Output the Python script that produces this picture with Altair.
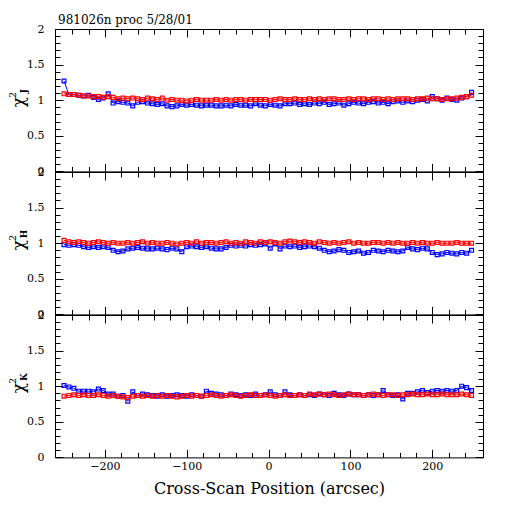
import altair as alt
import pandas as pd

# cross-scan positions (arcsec)
x_pos = list(range(-250, 249, 6))  # 84 bins

j_blue = [1.27, 1.08, 1.08, 1.07, 1.06, 1.07, 1.04, 1.01, 1.03, 1.09,
          0.96, 0.98, 0.97, 0.96, 0.92, 0.97, 0.98, 0.96, 0.95, 0.94,
          0.95, 0.92, 0.91, 0.92, 0.94, 0.93, 0.94, 0.93, 0.92, 0.93,
          0.93, 0.92, 0.92, 0.93, 0.92, 0.94, 0.93, 0.93, 0.92, 0.95,
          0.93, 0.92, 0.94, 0.93, 0.92, 0.95, 0.95, 0.96, 0.94, 0.95,
          0.94, 0.96, 0.95, 0.97, 0.94, 0.95, 0.96, 0.93, 0.95, 0.97,
          0.96, 0.95, 0.97, 0.98, 0.96, 0.97, 0.95, 0.98, 0.99, 0.97,
          0.99, 0.98, 1.00, 1.01, 0.99, 1.05, 1.02, 1.00, 1.03, 1.01,
          1.00, 1.03, 1.05, 1.11]
j_red = [1.09, 1.08, 1.08, 1.07, 1.06, 1.06, 1.05, 1.05, 1.04, 1.05,
         1.04, 1.02, 1.03, 1.02, 1.03, 1.02, 1.01, 1.03, 1.02, 1.01,
         1.03, 1.00, 1.01, 1.00, 1.00, 0.99, 1.00, 1.01, 1.00, 1.00,
         1.00, 1.01, 1.00, 1.01, 1.00, 1.01, 1.01, 1.00, 1.01, 1.01,
         1.01, 1.01, 1.00, 1.01, 1.02, 1.01, 1.01, 1.02, 1.01, 1.01,
         1.02, 1.01, 1.02, 1.01, 1.02, 1.02, 1.01, 1.01, 1.02, 1.01,
         1.02, 1.02, 1.01, 1.02, 1.02, 1.01, 1.02, 1.01, 1.02, 1.02,
         1.02, 1.01, 1.02, 1.02, 1.03, 1.02, 1.02, 1.01, 1.02, 1.02,
         1.03, 1.04, 1.05, 1.07]

h_blue = [0.98, 0.97, 0.98, 0.97, 0.95, 0.94, 0.95, 0.94, 0.95, 0.94,
          0.90, 0.88, 0.89, 0.92, 0.93, 0.94, 0.93, 0.92, 0.92, 0.93,
          0.92, 0.91, 0.93, 0.92, 0.88, 0.95, 0.96, 0.95, 0.94, 0.95,
          0.93, 0.92, 0.92, 0.94, 0.97, 0.96, 0.97, 0.96, 0.98, 0.97,
          0.98, 0.99, 0.93, 0.99, 0.92, 0.96, 0.95, 0.96, 0.94, 0.95,
          0.96, 0.95, 0.93, 0.90, 0.88, 0.89, 0.91, 0.90, 0.87, 0.88,
          0.89, 0.86, 0.87, 0.90, 0.89, 0.88, 0.90, 0.89, 0.88, 0.89,
          0.94, 0.92, 0.91, 0.93, 0.92, 0.87, 0.84, 0.85, 0.87, 0.86,
          0.85, 0.87, 0.86, 0.90]
h_red = [1.04, 1.02, 1.01, 1.02, 1.01, 1.00, 1.01, 1.02, 1.01, 1.00,
         1.01, 1.00, 1.00, 1.01, 1.00, 1.01, 1.02, 1.00, 1.01, 1.00,
         1.00, 1.01, 1.00, 0.99, 1.00, 1.01, 1.00, 1.02, 1.00, 1.01,
         1.01, 1.00, 1.01, 1.02, 1.00, 1.01, 1.00, 1.02, 1.01, 1.00,
         1.02, 1.01, 1.02, 1.01, 1.00, 1.02, 1.03, 1.02, 1.01, 1.02,
         1.01, 1.00, 1.02, 1.01, 1.00, 1.01, 1.00, 1.01, 1.02, 1.00,
         1.01, 1.00, 1.00, 1.01, 1.01, 1.00, 1.01, 1.00, 1.01, 1.00,
         1.00, 1.01, 1.00, 1.01, 1.00, 1.00, 1.01, 1.00, 1.00, 1.00,
         1.01, 1.00, 1.00, 1.00]

k_blue = [1.01, 0.99, 0.97, 0.93, 0.93, 0.93, 0.92, 0.96, 0.94, 0.89,
          0.89, 0.86, 0.87, 0.79, 0.92, 0.87, 0.89, 0.88, 0.87, 0.86,
          0.88, 0.86, 0.87, 0.88, 0.87, 0.86, 0.88, 0.87, 0.86, 0.93,
          0.90, 0.89, 0.88, 0.87, 0.89, 0.88, 0.87, 0.88, 0.87, 0.89,
          0.87, 0.88, 0.92, 0.88, 0.87, 0.92, 0.88, 0.87, 0.88, 0.87,
          0.88, 0.87, 0.89, 0.88, 0.87, 0.90, 0.88, 0.87, 0.89, 0.88,
          0.88, 0.87, 0.88, 0.87, 0.88, 0.94, 0.88, 0.87, 0.88, 0.82,
          0.90, 0.90, 0.92, 0.94, 0.91, 0.93, 0.94, 0.93, 0.94, 0.93,
          0.94, 1.00, 0.98, 0.94]
k_red = [0.86, 0.87, 0.88, 0.87, 0.88, 0.87, 0.87, 0.88, 0.87, 0.86,
         0.87, 0.86, 0.85, 0.84, 0.86, 0.87, 0.86, 0.87, 0.86, 0.87,
         0.86, 0.87, 0.86, 0.85, 0.86, 0.87, 0.86, 0.87, 0.86, 0.87,
         0.88, 0.87, 0.86, 0.87, 0.88, 0.87, 0.86, 0.87, 0.88, 0.87,
         0.87, 0.88, 0.87, 0.86, 0.87, 0.88, 0.87, 0.87, 0.88, 0.87,
         0.89, 0.88, 0.89, 0.88, 0.89, 0.88, 0.87, 0.88, 0.89, 0.88,
         0.88, 0.87, 0.88, 0.89, 0.88, 0.87, 0.88, 0.88, 0.87, 0.88,
         0.88, 0.89, 0.88, 0.88, 0.89, 0.88, 0.88, 0.89, 0.88, 0.88,
         0.88, 0.89, 0.88, 0.87]

bands = ["J", "H", "K"]
x_major = [-200, -100, 0, 100, 200]
x_minor = list(range(-240, 241, 20))
y_major = [0, 0.5, 1, 1.5, 2]
y_minor = [round(i * 0.1, 1) for i in range(21)]
title_text = "981026n proc 5/28/01"
x_title = "Cross-Scan Position (arcsec)"

FONT = "DejaVu Serif"
W, H = 428, 142.4
MAJ, MIN = 8, 5
BLUE, RED = "#0000ff", "#ff0000"


def ax(orient, values, size, labels=False, title=None, pad=4):
    kw = dict(orient=orient, values=values, tickSize=size, offset=-size,
              labels=labels, domain=False, grid=False, ticks=True,
              tickColor="black", tickWidth=1, title=title)
    if labels:
        kw.update(labelFont=FONT, labelFontSize=11, labelColor="black",
                  labelPadding=pad, labelFlush=False, labelOverlap=False,
                  labelBound=False)
        if orient in ("left", "right"):
            kw["labelExpr"] = "'' + datum.value"
    if title:
        kw.update(titleFont=FONT, titleFontSize=16, titleFontWeight="normal",
                  titleColor="black", titlePadding=9)
    return alt.Axis(**kw)


def panel(blue, red, band, top=False, bottom=False):
    dfb = pd.DataFrame({"x": x_pos, "v": blue})
    dfr = pd.DataFrame({"x": x_pos, "v": red})
    xs = alt.Scale(domain=[-261, 262], nice=False, zero=False)
    ys = alt.Scale(domain=[0, 2], nice=False, zero=False)

    def enc(axx, axy):
        return dict(x=alt.X("x:Q", scale=xs, axis=axx),
                    y=alt.Y("v:Q", scale=ys, axis=axy))

    l1 = alt.Chart(dfb).mark_line(color=BLUE, strokeWidth=1).encode(
        **enc(ax("top", x_major, MAJ), ax("left", y_major, MAJ, labels=True, pad=11)))
    l2 = alt.Chart(dfb).mark_point(shape="square", filled=False, color=BLUE,
                                   size=15, strokeWidth=1.2, opacity=1).encode(
        **enc(ax("top", x_minor, MIN), ax("left", y_minor, MIN)))
    l3 = alt.Chart(dfr).mark_line(color=RED, strokeWidth=1).encode(
        **enc(ax("bottom", x_major, MAJ, labels=bottom,
                 title=x_title if bottom else None, pad=3),
              ax("right", y_major, MAJ)))
    l4 = alt.Chart(dfr).mark_point(shape="square", filled=False, color=RED,
                                   size=15, strokeWidth=1.2, opacity=1).encode(
        **enc(ax("bottom", x_minor, MIN), ax("right", y_minor, MIN)))

    one = pd.DataFrame({"a": [0]})
    chi = alt.Chart(one).mark_text(text="χ", font=FONT, fontSize=17, angle=270,
                                   align="center", baseline="middle", color="black").encode(
        x=alt.value(-36), y=alt.value(73))
    sup = alt.Chart(one).mark_text(text="2", font=FONT, fontSize=9, angle=270,
                                   align="center", baseline="middle", color="black").encode(
        x=alt.value(-42), y=alt.value(66))
    sub = alt.Chart(one).mark_text(text=band, font=FONT, fontSize=9, fontWeight="bold",
                                   angle=270, align="center", baseline="middle",
                                   color="black").encode(
        x=alt.value(-31), y=alt.value(62))
    layers = [l1, l2, l3, l4, chi, sup, sub]
    if top:
        ttl = alt.Chart(one).mark_text(text=title_text, font=FONT, fontSize=12,
                                       align="left", baseline="alphabetic",
                                       color="black").encode(
            x=alt.value(3), y=alt.value(-5))
        layers.append(ttl)
    return alt.layer(*layers).resolve_axis(x="independent", y="independent").properties(
        width=W, height=H)


p1 = panel(j_blue, j_red, bands[0], top=True)
p2 = panel(h_blue, h_red, bands[1])
p3 = panel(k_blue, k_red, bands[2], bottom=True)

chart = alt.vconcat(p1, p2, p3, spacing=0, bounds="flush").properties(
    padding={"left": 0, "top": 5, "right": 5, "bottom": 5},
    background="white",
).configure_view(stroke="black", strokeWidth=1)

chart.save("out.html", embed_options={"renderer": "svg", "actions": False})
